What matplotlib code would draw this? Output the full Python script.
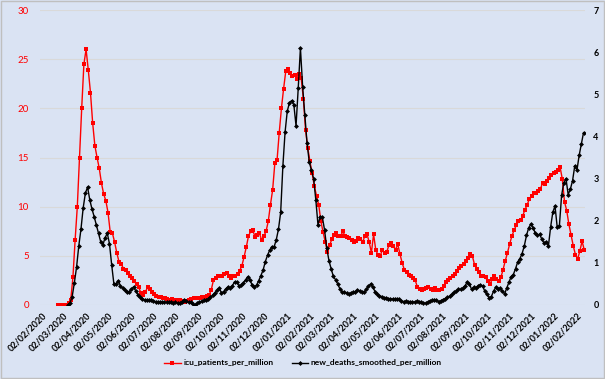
import numpy as np
import pandas as pd
import matplotlib
matplotlib.use('Agg')
import matplotlib.pyplot as plt
import matplotlib.dates as mdates
from matplotlib.patches import Rectangle

# icu patients per million, every 3 days from 2020-02-23 (left axis)
icu_start = '2020-02-23'
icu = [0, 0, 0, 0, 0, 0.2, 0.5, 2.8, 6.6, 10.0, 15.0, 20.0, 24.5, 26.0, 23.9, 21.6, 18.5, 16.2, 15.0, 13.9,
       12.4, 11.3, 10.6, 9.4, 7.4, 7.3, 6.4, 5.3, 4.4, 4.2, 3.7, 3.6, 3.3, 3.0, 2.7, 2.4, 2.1, 1.8, 1.2, 1.0,
       1.3, 1.8, 1.6, 1.3, 1.1, 0.9, 0.8, 0.8, 0.7, 0.7, 0.6, 0.5, 0.6, 0.5, 0.5, 0.4, 0.5, 0.4, 0.3, 0.4,
       0.5, 0.6, 0.7, 0.7, 0.7, 0.7, 0.8, 0.8, 0.9, 1.0, 1.5, 2.5, 2.7, 2.9, 3.0, 2.9, 3.2, 3.3, 3.0, 2.7,
       2.9, 3.0, 3.2, 3.5, 4.0, 4.9, 5.9, 7.0, 7.5, 7.6, 6.9, 7.1, 7.3, 6.6, 7.0, 7.5, 8.5, 10.2, 11.7, 14.4,
       14.7, 17.5, 20.0, 22.0, 23.8, 24.0, 23.6, 23.3, 23.4, 23.0, 23.5, 23.1, 21.0, 17.8, 16.0, 14.6, 13.4, 12.1, 11.1, 10.2,
       8.5, 7.4, 6.4, 5.4, 6.1, 6.7, 7.1, 7.3, 7.0, 7.0, 7.5, 7.0, 6.9, 6.8, 6.6, 6.4, 6.5, 6.8, 6.7, 6.4,
       7.0, 7.2, 6.4, 5.3, 7.2, 5.6, 5.1, 5.0, 5.6, 5.3, 5.4, 6.1, 6.3, 6.0, 5.6, 6.2, 5.2, 4.3, 3.6, 3.4,
       3.1, 2.9, 2.7, 2.5, 1.8, 1.6, 1.5, 1.6, 1.7, 1.8, 1.6, 1.5, 1.7, 1.5, 1.5, 1.6, 1.9, 2.3, 2.5, 2.7,
       3.0, 3.2, 3.5, 3.8, 4.0, 4.2, 4.5, 4.8, 5.2, 5.0, 4.1, 3.7, 3.4, 3.0, 2.9, 2.8, 2.4, 2.1, 2.6, 3.0,
       2.6, 2.4, 2.8, 3.6, 4.5, 5.3, 6.2, 7.0, 7.6, 8.1, 8.5, 8.6, 9.1, 9.7, 10.2, 10.8, 11.1, 11.4, 11.4, 11.6,
       11.8, 12.4, 12.3, 12.6, 12.9, 13.2, 13.4, 13.5, 13.7, 14.0, 12.8, 10.5, 9.6, 8.2, 7.1, 6.0, 5.1, 4.7, 5.5, 6.5,
       5.6]

# new deaths smoothed per million, every 3 days from 2020-03-08 (right axis)
deaths_start = '2020-03-08'
deaths = [0, 0.05, 0.2, 0.53, 0.9, 1.4, 1.8, 2.3, 2.65, 2.8, 2.5, 2.28, 2.1, 1.9, 1.7, 1.5, 1.43, 1.6, 1.7, 1.45,
          0.95, 0.5, 0.5, 0.58, 0.45, 0.4, 0.36, 0.3, 0.32, 0.38, 0.43, 0.33, 0.24, 0.18, 0.15, 0.12, 0.12, 0.11, 0.12, 0.1,
          0.08, 0.08, 0.07, 0.07, 0.06, 0.07, 0.07, 0.06, 0.05, 0.06, 0.05, 0.05, 0.08, 0.12, 0.1, 0.07, 0.06, 0.03, 0.0, 0.04,
          0.07, 0.09, 0.11, 0.13, 0.15, 0.18, 0.23, 0.29, 0.35, 0.4, 0.29, 0.32, 0.38, 0.43, 0.4, 0.46, 0.55, 0.55, 0.45, 0.47,
          0.53, 0.6, 0.67, 0.6, 0.47, 0.43, 0.47, 0.58, 0.7, 0.83, 1.03, 1.18, 1.3, 1.38, 1.38, 1.55, 1.8, 2.2, 3.3, 4.1,
          4.6, 4.8, 4.85, 4.75, 4.25, 5.15, 6.1, 5.18, 4.5, 3.85, 3.4, 3.2, 3.0, 2.5, 1.9, 2.1, 2.08, 1.78, 1.35, 1.05,
          0.86, 0.68, 0.6, 0.5, 0.38, 0.31, 0.3, 0.29, 0.25, 0.29, 0.3, 0.31, 0.36, 0.33, 0.31, 0.3, 0.37, 0.45, 0.5, 0.42,
          0.32, 0.26, 0.22, 0.2, 0.17, 0.17, 0.15, 0.15, 0.14, 0.14, 0.15, 0.14, 0.1, 0.08, 0.09, 0.08, 0.08, 0.07, 0.07, 0.09,
          0.08, 0.06, 0.05, 0.04, 0.07, 0.1, 0.11, 0.13, 0.12, 0.08, 0.1, 0.13, 0.15, 0.18, 0.21, 0.25, 0.3, 0.33, 0.37, 0.37,
          0.4, 0.45, 0.55, 0.5, 0.37, 0.42, 0.4, 0.46, 0.48, 0.45, 0.33, 0.25, 0.17, 0.2, 0.33, 0.42, 0.38, 0.4, 0.33, 0.26,
          0.4, 0.54, 0.67, 0.72, 0.86, 1.02, 1.1, 1.22, 1.4, 1.65, 1.83, 1.92, 1.83, 1.71, 1.65, 1.68, 1.56, 1.47, 1.5, 1.4,
          1.85, 2.2, 2.35, 1.85, 1.88, 2.6, 2.9, 3.0, 2.62, 2.75, 2.95, 3.3, 3.2, 3.55, 3.82, 4.09]

bg = '#dae3f3'
fs = 6.5
plt.rcParams['font.family'] = ['Lato', 'DejaVu Sans']

fig = plt.figure(figsize=(6.05, 3.79), dpi=100, facecolor=bg)
fig.patches.append(Rectangle((0.001, 0.002), 0.997, 0.995, transform=fig.transFigure,
                             fill=False, edgecolor='#bfbfbf', linewidth=1))
W, H = 605, 379
ax = fig.add_axes([40 / W, (H - 305) / H, 545 / W, 295 / H])
ax.set_facecolor(bg)
ax2 = ax.twinx()

icu_dates = pd.date_range(icu_start, periods=len(icu), freq='3D')
death_dates = pd.date_range(deaths_start, periods=len(deaths), freq='3D')

l1, = ax.plot(icu_dates, icu, color='#ff0000', lw=1.0, marker='s', ms=2.7, mew=0,
              label='icu_patients_per_million', zorder=3)
l2, = ax2.plot(death_dates, deaths, color='black', lw=1.0, marker='D', ms=2.5, mew=0,
               label='new_deaths_smoothed_per_million', zorder=3)

ax.set_ylim(0, 30)
ax.set_yticks(range(0, 31, 5))
ax2.set_ylim(0, 7)
ax2.set_yticks(range(0, 8))
ax.set_xlim(pd.Timestamp('2020-01-30'), pd.Timestamp('2022-02-13'))
ticks = pd.date_range('2020-02-01', '2022-02-01', freq='MS') + pd.Timedelta(days=1)
ax.set_xticks(ticks)
ax.set_xticklabels([t.strftime('%d/%m/%Y') for t in ticks], rotation=45, ha='right',
                   rotation_mode='anchor', fontsize=fs, fontweight='bold')

ax.grid(axis='y', color='#d9d9d9', lw=0.8)
ax.set_axisbelow(True)
for a in (ax, ax2):
    for s in a.spines.values():
        s.set_visible(False)
ax.tick_params(axis='x', length=0, pad=4)
ax.tick_params(axis='y', length=0, colors='#ff0000', labelsize=fs + 0.5, pad=8)
ax2.tick_params(axis='y', length=0, labelsize=fs, pad=6)
for t in ax2.get_yticklabels():
    t.set_fontweight('bold')

fig.legend(handles=[l1, l2], loc='center', bbox_to_anchor=(303 / W, 1 - 363 / H), ncol=2,
           frameon=False, handlelength=2.0, columnspacing=2.2, handletextpad=0.3,
           prop={'weight': 'bold', 'size': 6.0})

fig.savefig('out.png', dpi=100, facecolor=bg)
